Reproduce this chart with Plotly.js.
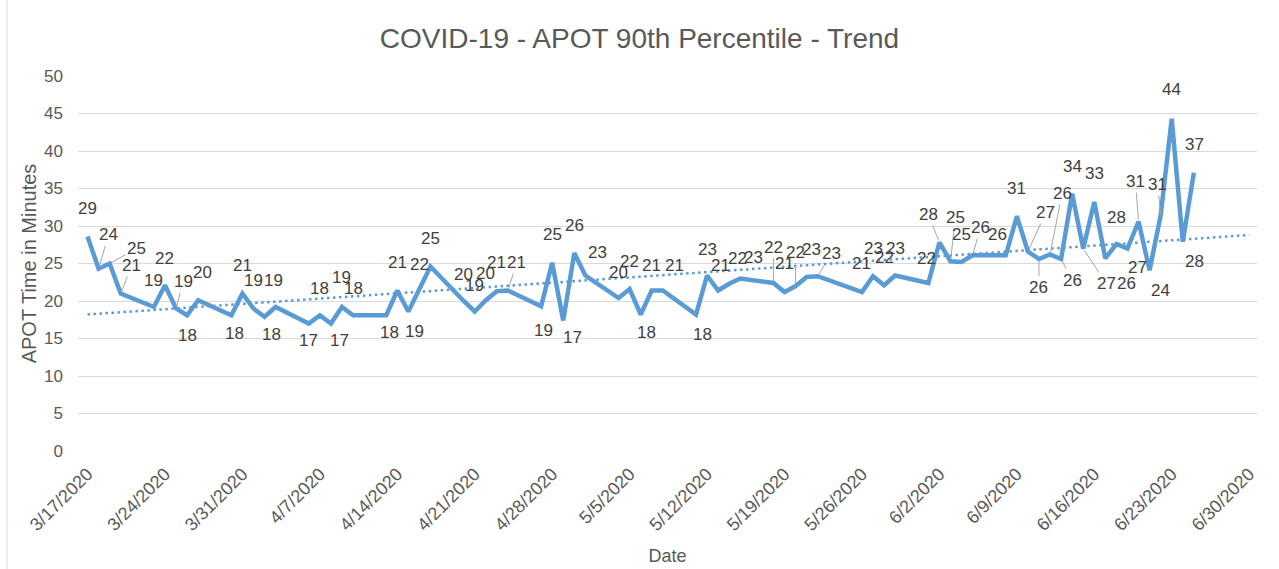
<!DOCTYPE html>
<html>
<head>
<meta charset="utf-8">
<script src="https://cdn.plot.ly/plotly-3.0.1.min.js"></script>
<style>
  html, body { margin: 0; padding: 0; background: #ffffff; }
  #chart { width: 1279px; height: 569px; }
</style>
</head>
<body>
<div id="chart"></div>
<script>
// ---- Data ----
const dates = [
  '2020-03-17','2020-03-18','2020-03-19','2020-03-20',
  '2020-03-23','2020-03-24','2020-03-25','2020-03-26','2020-03-27',
  '2020-03-30','2020-03-31','2020-04-01','2020-04-02','2020-04-03',
  '2020-04-06','2020-04-07','2020-04-08','2020-04-09','2020-04-10',
  '2020-04-13','2020-04-14','2020-04-15','2020-04-16','2020-04-17',
  '2020-04-20','2020-04-21','2020-04-22','2020-04-23','2020-04-24',
  '2020-04-27','2020-04-28','2020-04-29','2020-04-30','2020-05-01',
  '2020-05-04','2020-05-05','2020-05-06','2020-05-07','2020-05-08',
  '2020-05-11','2020-05-12','2020-05-13','2020-05-14','2020-05-15',
  '2020-05-18','2020-05-19','2020-05-20','2020-05-21','2020-05-22',
  '2020-05-26','2020-05-27','2020-05-28','2020-05-29',
  '2020-06-01','2020-06-02','2020-06-03','2020-06-04','2020-06-05',
  '2020-06-08','2020-06-09','2020-06-10','2020-06-11','2020-06-12',
  '2020-06-13','2020-06-14','2020-06-15','2020-06-16','2020-06-17',
  '2020-06-18','2020-06-19','2020-06-20','2020-06-21','2020-06-22',
  '2020-06-23','2020-06-24','2020-06-25'
];
const apotMinutes = [
  28.6, 24.3, 25.0, 21.0,
  19.2, 22.1, 19.0, 18.1, 20.1,
  18.1, 21.0, 19.0, 17.9, 19.2,
  17.0, 18.1, 17.0, 19.2, 18.1,
  18.1, 21.4, 18.6, 21.6, 24.6,
  20.0, 18.6, 20.1, 21.3, 21.4,
  19.3, 25.1, 17.4, 26.4, 23.4,
  20.4, 21.6, 18.2, 21.4, 21.4,
  18.2, 23.4, 21.4, 22.3, 23.0,
  22.4, 21.2, 22.0, 23.2, 23.3,
  21.2, 23.3, 22.1, 23.4,
  22.4, 27.8, 25.3, 25.2, 26.1,
  26.1, 31.3, 26.6, 25.6, 26.2,
  25.6, 34.3, 27.0, 33.2, 25.7,
  27.6, 27.0, 30.6, 24.1, 31.4,
  44.3, 27.9, 37.1
];
const tickDates = [
  '2020-03-17','2020-03-24','2020-03-31','2020-04-07','2020-04-14','2020-04-21',
  '2020-04-28','2020-05-05','2020-05-12','2020-05-19','2020-05-26','2020-06-02',
  '2020-06-09','2020-06-16','2020-06-23','2020-06-30'
];
const tickLabels = [
  '3/17/2020','3/24/2020','3/31/2020','4/7/2020','4/14/2020','4/21/2020',
  '4/28/2020','5/5/2020','5/12/2020','5/19/2020','5/26/2020','6/2/2020',
  '6/9/2020','6/16/2020','6/23/2020','6/30/2020'
];
// Linear trendline as drawn in the reference (read at its two ends)
const trendDates = ['2020-03-17', '2020-06-30'];
const trendValues = [18.2, 28.8];

// ---- Data-label placement in pixels (style only, kept apart from the data) ----
const labelDx = [
  0, 10, 27, 11,
  0, 0, 7, 0, 4,
  3, 0, 0, 7, -2,
  0, 0, 9, 0, 0,
  3, 0, 6, 0, 0,
  0, 0, 0, 0, 9,
  2, 0, 9, 0, 12,
  0, 0, 6, 0, 12,
  6, 0, 2, 8, 13,
  0, 0, 0, 5, 14,
  0, 0, 0, 0,
  -2, -11, 5, 0, 8,
  -8, 0, 18, 0, 12,
  11, 0, 23, 0, 21,
  0, 10, -3, 11, -3,
  0, 12, 1
];
const labelDy = [
  -28, -34, -15, -28,
  -27, -27, -27, 20, -28,
  18, -28, -28, 18, -27,
  17, -27, 17, -30, -27,
  17, -28, 20, -25, -28,
  -27, -26, -27, -29, -28,
  24, -28, 17, -28, -23,
  -26, -28, 18, -25, -25,
  20, -26, -25, -25, -21,
  -36, -29, -34, -28, -23,
  -29, -28, -28, -27,
  -25, -28, -44, -28, -28,
  -21, -28, -39, 28, -61,
  21, -27, 35, -29, 25,
  -27, 19, -40, 20, -31,
  -29, 20, -28
];
const leader = [
  0, 1, 1, 1,
  0, 0, 1, 0, 0,
  0, 0, 0, 0, 0,
  0, 0, 0, 0, 0,
  0, 0, 0, 0, 0,
  0, 0, 0, 0, 1,
  0, 0, 0, 0, 0,
  0, 0, 0, 0, 0,
  0, 0, 0, 0, 0,
  1, 0, 1, 0, 1,
  0, 0, 0, 0,
  0, 1, 1, 0, 1,
  0, 0, 1, 1, 1,
  1, 0, 1, 0, 0,
  0, 0, 1, 0, 1,
  0, 0, 0
];

const textGray = '#595959';
const labelGray = '#404040';
const fontFam = '"Liberation Sans", Arial, sans-serif';

const traces = [
  {
    x: trendDates, y: trendValues, type: 'scatter', mode: 'lines',
    line: { color: '#5B9BD5', width: 2.5, dash: '2.5px,3.5px' },
    hoverinfo: 'skip', showlegend: false
  },
  {
    x: dates, y: apotMinutes, type: 'scatter', mode: 'lines',
    line: { color: '#5B9BD5', width: 4.5 },
    showlegend: false
  }
];

const annotations = apotMinutes.map((v, i) => {
  const base = {
    x: dates[i], y: v, xref: 'x', yref: 'y',
    text: String(Math.round(v)),
    font: { family: fontFam, size: 17, color: labelGray },
    xanchor: 'center', yanchor: 'middle'
  };
  if (leader[i]) {
    return Object.assign(base, {
      showarrow: true, arrowhead: 0, arrowwidth: 1, arrowcolor: '#A6A6A6',
      ax: labelDx[i], ay: labelDy[i], standoff: 2
    });
  }
  return Object.assign(base, { showarrow: false, xshift: labelDx[i], yshift: -labelDy[i] });
});

const layout = {
  width: 1279, height: 569,
  margin: { l: 78, r: 22, t: 76, b: 118 },
  paper_bgcolor: '#ffffff', plot_bgcolor: '#ffffff',
  font: { family: fontFam, color: textGray },
  title: {
    text: 'COVID-19 - APOT 90th Percentile - Trend',
    font: { family: fontFam, size: 28, color: textGray },
    x: 0.5, xanchor: 'center', y: 0.932, yanchor: 'middle'
  },
  xaxis: {
    type: 'date',
    range: ['2020-03-16 03:20', '2020-06-30 17:00'],
    tickmode: 'array', tickvals: tickDates, ticktext: tickLabels,
    tickangle: -45,
    tickfont: { family: fontFam, size: 18, color: textGray },
    ticklabelstandoff: 8,
    showgrid: false, zeroline: false,
    showline: false, ticks: '',
    title: { text: 'Date', font: { family: fontFam, size: 18, color: textGray }, standoff: 15 }
  },
  yaxis: {
    range: [0, 50], dtick: 5,
    tickfont: { family: fontFam, size: 17, color: textGray },
    showgrid: true, gridcolor: '#D9D9D9', gridwidth: 1,
    zeroline: false, showline: false, ticks: '',
    ticklabelstandoff: 14,
    title: { text: 'APOT Time in Minutes', font: { family: fontFam, size: 20, color: textGray }, standoff: 2 }
  },
  annotations: annotations,
  shapes: [
    { type: 'line', xref: 'paper', yref: 'paper', x0: -0.0602, x1: -0.0602, y0: -0.32, y1: 1.21,
      line: { color: '#D9D9D9', width: 1 } }
  ]
};

Plotly.newPlot('chart', traces, layout, { displayModeBar: false, staticPlot: true });
</script>
</body>
</html>
